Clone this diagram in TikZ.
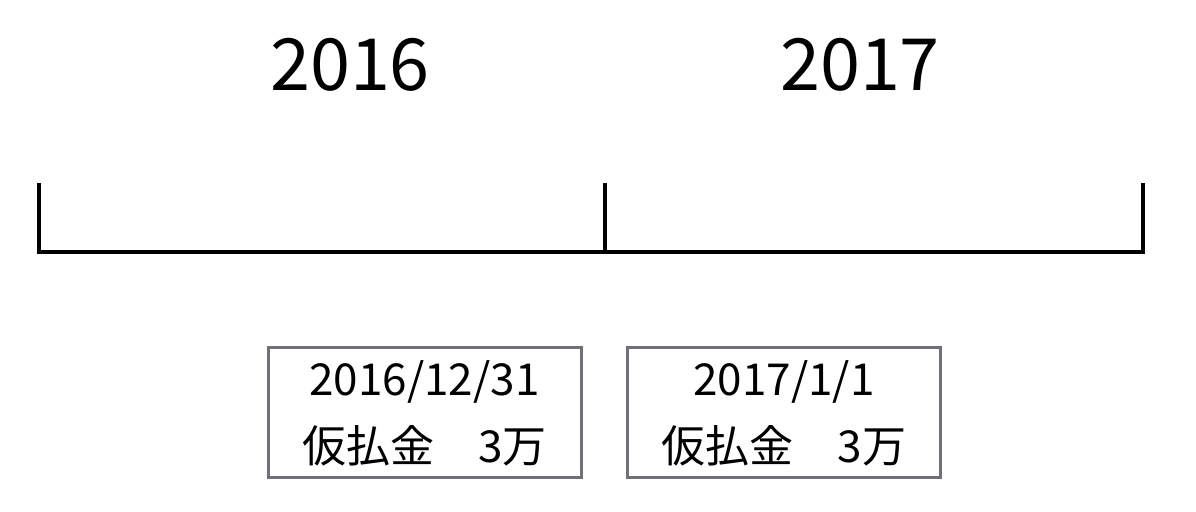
\documentclass[tikz,border=0pt]{standalone}
\usepackage{fontspec}
\setmainfont{Noto Sans CJK JP}
\usepackage{tikz}
\usetikzlibrary{positioning}
\definecolor{boxgray}{RGB}{112,112,118}

\begin{document}
\begin{tikzpicture}[x=0.5pt, y=-0.5pt,
  year/.style={font=\fontsize{36}{40}\selectfont},
  entry/.style={draw=boxgray, line width=1.5pt, minimum width=156.5pt,
                minimum height=65pt, align=center, inner sep=0pt,
                font=\fontsize{22}{33.5}\selectfont},
  axis/.style={line width=2pt, line cap=rect}
]
  \useasboundingbox (0,0) rectangle (1196,512);
  % Timeline
  \coordinate (t0) at (39,252);
  \coordinate (t1) at (605,252);
  \coordinate (t2) at (1143,252);
  \draw[axis] (t0) -- (t2);
  \draw[axis] (t0) -- ++(0,-67);
  \draw[axis] (t1) -- ++(0,-67);
  \draw[axis] (t2) -- ++(0,-67);
  % Years
  \node[year] (y2016) at (350,65) {2016};
  \node[year] (y2017) at (860,65) {2017};
  % Entries
  \node[entry] (close) at (424.5,413) {2016/12/31\\仮払金　3万};
  \node[entry] (open) at (784,413) {2017/1/1\\仮払金　3万};
\end{tikzpicture}
\end{document}
